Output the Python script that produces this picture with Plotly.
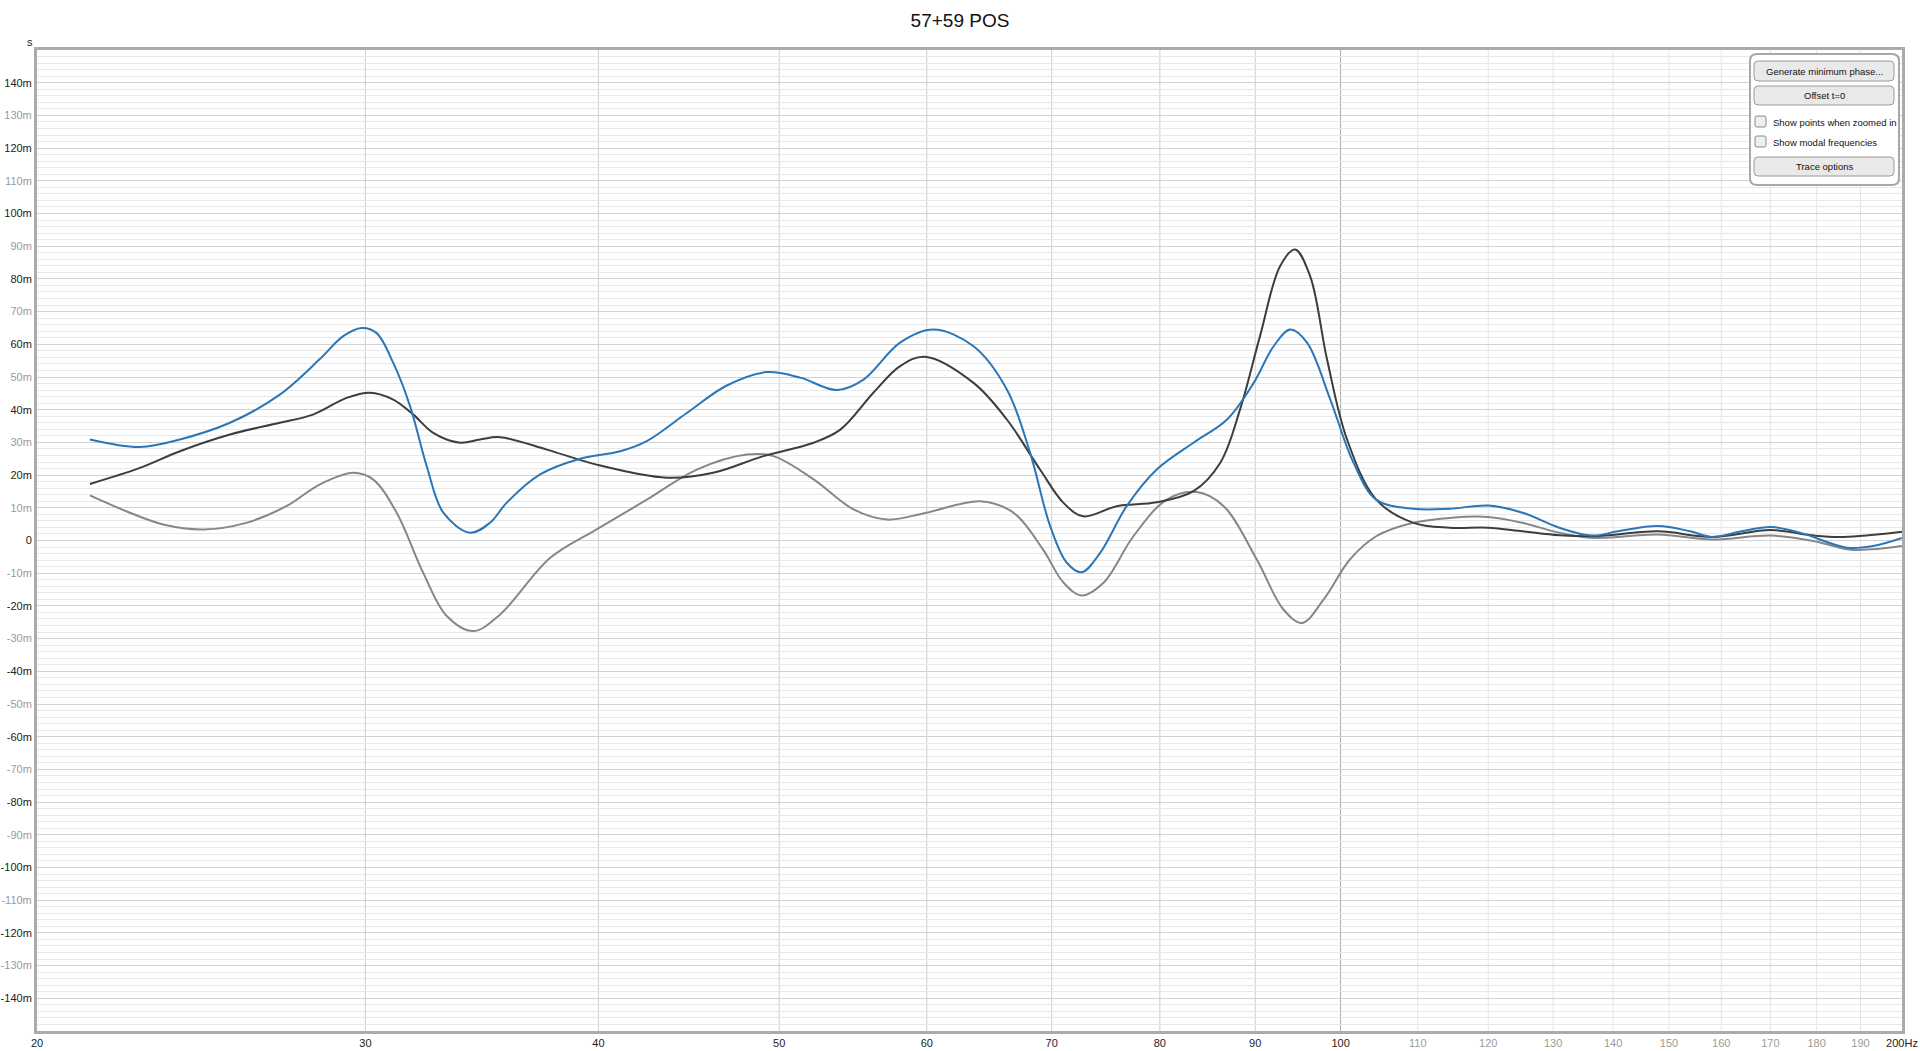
import plotly.graph_objects as go

# Group delay traces, frequency in Hz and delay in ms
blue_freq = [21.35, 22.71, 23.86, 25.38, 26.99, 28.35, 29.19, 29.86, 30.41, 31.05, 31.70, 32.36,
             33.03, 34.14, 35.0, 35.71, 37.22, 39.11, 41.09, 42.46, 44.61, 46.87, 49.24, 51.32,
             53.70, 55.49, 58.05, 60.49, 63.56, 66.23, 68.16, 69.87, 71.32, 72.65, 74.31, 76.79,
             79.69, 83.39, 86.92, 89.83, 92.07, 93.98, 95.94, 98.74, 101.6, 104.5, 109.4, 114.4,
             120.0, 125.2, 131.0, 136.4, 140.8, 147.9, 154.0, 158.2, 164.0, 170.1, 176.3, 186.9,
             192.9, 200.0]
blue_delay = [30.9, 28.6, 30.9, 36.0, 44.6, 55.4, 62.5, 65.0, 63.5, 54.3, 41.1, 22.7,
              8.5, 2.4, 5.5, 11.5, 20.2, 25.0, 27.3, 30.4, 39.0, 47.4, 51.5, 49.8,
              46.0, 49.2, 60.5, 64.5, 59.4, 46.2, 26.8, 4.4, -6.8, -9.7, -3.8, 10.5,
              21.7, 29.9, 37.0, 48.2, 59.4, 64.5, 60.5, 43.1, 23.8, 12.5, 9.7, 9.7,
              10.7, 8.5, 3.9, 1.5, 2.8, 4.4, 2.8, 1.1, 2.8, 4.1, 2.4, -2.2,
              -1.7, 0.8]

dark_freq = [21.35, 22.71, 23.86, 25.38, 26.99, 28.12, 29.31, 30.16, 31.05, 31.83, 32.62, 33.72,
             34.56, 35.43, 37.53, 39.91, 43.52, 46.09, 49.04, 52.17, 53.92, 56.17, 58.05, 59.86,
             63.56, 66.23, 69.0, 71.03, 72.78, 75.86, 79.69, 83.39, 86.2, 88.33, 90.53, 92.8,
             94.53, 96.32, 98.34, 100.8, 104.5, 109.4, 114.4, 120.0, 125.2, 131.0, 136.8, 147.9,
             158.2, 170.1, 179.5, 186.1, 200.0]
dark_delay = [17.3, 22.2, 27.3, 32.4, 36.0, 38.5, 43.6, 45.2, 43.1, 38.5, 32.9, 29.9,
              30.9, 31.6, 27.8, 23.2, 19.2, 20.7, 25.8, 29.9, 33.9, 45.2, 53.3, 56.2,
              48.2, 37.0, 21.7, 11.5, 7.4, 10.5, 11.7, 15.1, 23.8, 40.1, 62.5, 83.9,
              89.0, 80.8, 55.4, 30.9, 12.5, 5.4, 3.9, 3.9, 2.8, 1.6, 1.3, 2.8,
              1.1, 3.2, 1.5, 1.1, 2.7]

grey_freq = [21.35, 22.43, 23.37, 24.57, 25.89, 27.21, 28.35, 29.55, 30.28, 31.18, 32.22, 33.17,
             34.27, 35.43, 37.69, 39.91, 42.46, 45.17, 48.05, 49.65, 52.17, 54.81, 57.10, 59.97,
             64.09, 66.78, 69.26, 71.03, 72.65, 74.63, 77.43, 80.68, 83.74, 86.56, 90.17, 93.19,
             95.35, 97.94, 101.16, 104.5, 109.4, 114.4, 120.0, 125.2, 131.0, 136.8, 147.9, 158.2,
             170.1, 179.5, 187.8, 200.0]
grey_delay = [13.8, 8.5, 4.9, 3.4, 5.4, 10.5, 17.1, 20.7, 18.7, 8.5, -9.9, -23.1,
              -27.7, -22.6, -5.3, 3.4, 12.5, 21.7, 26.3, 25.8, 18.7, 9.5, 6.4, 8.5,
              12.0, 8.5, -2.8, -12.9, -16.8, -12.9, 1.3, 12.5, 14.8, 10.5, -5.8, -21.1,
              -25.2, -18.0, -5.8, 1.3, 5.4, 6.9, 7.2, 5.4, 2.4, 0.8, 1.8, 0.3,
              1.5, -0.2, -2.8, -1.7]

x_ticks = [20, 30, 40, 50, 60, 70, 80, 90, 100, 110, 120, 130, 140, 150, 160, 170, 180, 190, 200]
x_dark = [20, 30, 40, 50, 60, 70, 80, 90, 100, 200]
y_ticks = list(range(-140, 150, 10))

W, H = 1920, 1051
ML, MR, MT, MB = 37, 18, 50, 20


def px(x):
    return (x - ML) / (W - ML - MR)


def py(y):
    return (H - MB - y) / (H - MT - MB)


def x_label(v):
    txt = "200Hz" if v == 200 else str(v)
    if v in x_dark:
        return txt
    return f"<span style='color:#9a9a9a'>{txt}</span>"


def y_label(v):
    txt = "0" if v == 0 else f"{v}m"
    if v % 20 == 0:
        return txt
    return f"<span style='color:#9a9a9a'>{txt}</span>"


def rounded_rect(x0, y0, x1, y1, r):
    a, b, c, d = px(x0), px(x1), py(y0), py(y1)
    rx = r / (W - ML - MR)
    ry = r / (H - MT - MB)
    return (f"M {a + rx},{c} L {b - rx},{c} Q {b},{c} {b},{c - ry} "
            f"L {b},{d + ry} Q {b},{d} {b - rx},{d} L {a + rx},{d} "
            f"Q {a},{d} {a},{d + ry} L {a},{c - ry} Q {a},{c} {a + rx},{c} Z")


fig = go.Figure()

fig.add_trace(go.Scatter(x=grey_freq, y=grey_delay, mode="lines",
                         line=dict(color="#878787", width=2, shape="spline", smoothing=1.0)))
fig.add_trace(go.Scatter(x=dark_freq, y=dark_delay, mode="lines",
                         line=dict(color="#3d3d3d", width=2, shape="spline", smoothing=1.0)))
fig.add_trace(go.Scatter(x=blue_freq, y=blue_delay, mode="lines",
                         line=dict(color="#2a76b8", width=2, shape="spline", smoothing=1.0)))

# vertical grid: darker for 30..90, darkest at 100
for v in x_ticks[1:-1]:
    col = "#a9a9a9" if v == 100 else ("#cfcfcf" if v < 100 else "#e4e4e4")
    fig.add_shape(type="line", xref="x", yref="paper", x0=v, x1=v, y0=0, y1=1,
                  line=dict(color=col, width=1), layer="between")

# control panel in the top right corner
panel_font = dict(family="Liberation Sans", size=9.5, color="#111")
fig.add_shape(type="path", path=rounded_rect(1750, 54, 1899, 185, 7), xref="paper", yref="paper",
              line=dict(color="#a8a8a8", width=2), fillcolor="white", layer="above")
buttons = [("Generate minimum phase...", 61, 81), ("Offset t=0", 86, 105), ("Trace options", 157, 176)]
for label, y0, y1 in buttons:
    fig.add_shape(type="path", path=rounded_rect(1754, y0, 1894, y1, 4), xref="paper",
                  yref="paper", line=dict(color="#9a9a9a", width=1), fillcolor="#e9e9e9",
                  layer="above")
    fig.add_annotation(text=label, x=px(1824), y=py((y0 + y1) / 2), xref="paper", yref="paper",
                       xanchor="center", yanchor="middle", showarrow=False, font=panel_font)
checks = [("Show points when zoomed in", 122), ("Show modal frequencies", 142)]
for label, yc in checks:
    fig.add_shape(type="path", path=rounded_rect(1755, yc - 6, 1766, yc + 5, 2), xref="paper",
                  yref="paper", line=dict(color="#8a8a8a", width=1), fillcolor="#efefef",
                  layer="above")
    fig.add_annotation(text=label, x=px(1771), y=py(yc), xref="paper", yref="paper",
                       xanchor="left", yanchor="middle", showarrow=False, font=panel_font)

fig.add_annotation(text="s", x=px(30), y=py(42), xref="paper", yref="paper", showarrow=False,
                   xanchor="center", yanchor="middle",
                   font=dict(family="Liberation Sans", size=11, color="#222"))

fig.update_layout(
    width=W, height=H,
    title=dict(text="57+59 POS", x=0.5, xref="container", y=1 - 20 / H, yanchor="middle",
               font=dict(family="Liberation Sans", size=19, color="#111")),
    margin=dict(l=ML, r=MR, t=MT, b=MB, autoexpand=False),
    paper_bgcolor="white", plot_bgcolor="white",
    showlegend=False,
    xaxis=dict(type="log", range=[1.30103, 2.30103], tickmode="array", tickvals=x_ticks,
               ticktext=[x_label(v) for v in x_ticks], showgrid=False, zeroline=False,
               showline=True, mirror=True, linecolor="#ababab", linewidth=3, ticks="",
               automargin=False,
               tickfont=dict(family="Liberation Sans", size=11, color="#222")),
    yaxis=dict(range=[-150, 150], tickmode="array", tickvals=y_ticks,
               ticktext=[y_label(v) for v in y_ticks], showgrid=True, gridcolor="#d2d2d2",
               gridwidth=1, zeroline=False, showline=True, mirror=True, linecolor="#ababab",
               linewidth=3, ticks="", automargin=False,
               minor=dict(dtick=2, tick0=0, showgrid=True, gridcolor="#e8e8e8", gridwidth=1),
               tickfont=dict(family="Liberation Sans", size=11, color="#222")),
)

# the page's default 8px body margin would push the figure off the window
fig.write_html("out.html", config={"displayModeBar": False},
               post_script="document.body.style.margin = '0';")
